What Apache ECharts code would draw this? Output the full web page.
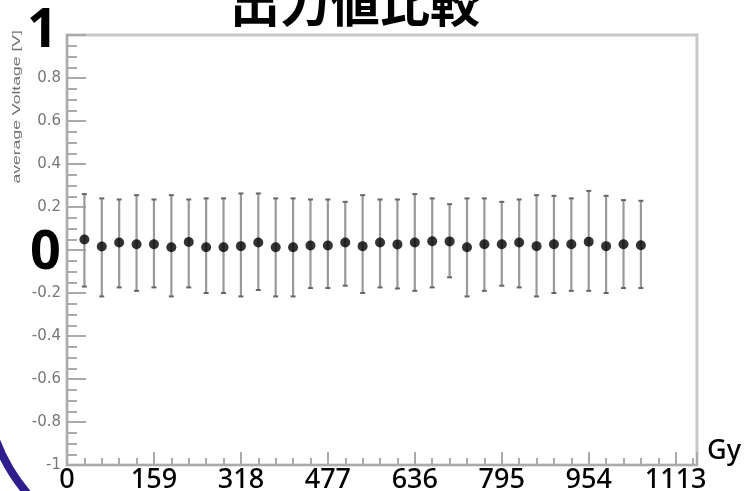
<!DOCTYPE html>
<html><head><meta charset="utf-8">
<script src="https://cdn.jsdelivr.net/npm/echarts@6/dist/echarts.min.js"></script>
<style>html,body{margin:0;padding:0;background:#fff}#c{width:748px;height:491px}</style>
</head><body><div id="c"></div>
<script>
const titleText = '出力値比較';
const yTitle = 'average Voltage [V]';
const xUnit = 'Gy';
const doses = [31.8, 63.6, 95.4, 127.2, 159, 190.8, 222.6, 254.4, 286.2, 318, 349.8, 381.6, 413.4, 445.2, 477, 508.8, 540.6, 572.4, 604.2, 636, 667.8, 699.6, 731.4, 763.2, 795, 826.8, 858.6, 890.4, 922.2, 954, 985.8, 1017.6, 1049.4];
const mean = [0.049, 0.016, 0.035, 0.027, 0.027, 0.013, 0.037, 0.013, 0.013, 0.018, 0.035, 0.013, 0.013, 0.021, 0.021, 0.035, 0.018, 0.035, 0.026, 0.035, 0.041, 0.040, 0.013, 0.027, 0.027, 0.035, 0.018, 0.027, 0.027, 0.038, 0.018, 0.027, 0.022];
const upper = [0.26, 0.24, 0.235, 0.255, 0.235, 0.255, 0.235, 0.24, 0.24, 0.263, 0.263, 0.24, 0.24, 0.235, 0.235, 0.224, 0.255, 0.235, 0.235, 0.26, 0.24, 0.213, 0.24, 0.24, 0.224, 0.235, 0.255, 0.252, 0.24, 0.275, 0.252, 0.232, 0.229];
const lower = [-0.17, -0.216, -0.174, -0.19, -0.174, -0.216, -0.174, -0.2, -0.2, -0.216, -0.186, -0.216, -0.216, -0.177, -0.177, -0.166, -0.2, -0.174, -0.179, -0.19, -0.174, -0.127, -0.216, -0.19, -0.166, -0.174, -0.216, -0.2, -0.19, -0.19, -0.2, -0.177, -0.177];
const xTickStep = 159;
const xMax = 1152;
const yMin = -1, yMax = 1, yStep = 0.2;

const chart = echarts.init(document.getElementById('c'));
const errData = doses.map((d, i) => [d, lower[i], upper[i]]);
const ptData = doses.map((d, i) => [d, mean[i]]);

const option = {
  animation: false,
  backgroundColor: '#fff',
  grid: { left: 67, right: 51, top: 35, bottom: 26, show: true, borderColor: '#c8c8c8', borderWidth: 3, backgroundColor: '#fff',
    containLabel: false, outerBoundsMode: 'none' },
  xAxis: {
    type: 'value', min: 0, max: xMax, interval: xTickStep,
    axisLine: { onZero: false, lineStyle: { color: '#aaa', width: 2 } },
    axisTick: { inside: true, length: 13, lineStyle: { color: '#aaa', width: 2 } },
    minorTick: { show: true, splitNumber: 5, length: 7, lineStyle: { color: '#aaa', width: 2 } },
    splitLine: { show: false },
    axisLabel: { margin: 2, fontSize: 27, color: '#000', fontFamily: 'Noto Sans', fontWeight: 500,
      showMaxLabel: false, showMinLabel: true,
      formatter: v => (Math.abs(v % xTickStep) < 1e-6 ? String(v) : '') },
    name: xUnit, nameLocation: 'end', nameGap: 10,
    nameTextStyle: { fontSize: 27, color: '#000', verticalAlign: 'bottom', fontFamily: 'Noto Sans', fontWeight: 500 }
  },
  yAxis: {
    type: 'value', min: yMin, max: yMax, interval: yStep,
    axisLine: { onZero: false, lineStyle: { color: '#aaa', width: 2 } },
    axisTick: { inside: true, length: 19, lineStyle: { color: '#aaa', width: 2 } },
    minorTick: { show: true, splitNumber: 4, length: 10, lineStyle: { color: '#aaa', width: 2 } },
    splitLine: { show: false },
    axisLabel: {
      margin: 6, showMaxLabel: true, showMinLabel: true,
      formatter: v => {
        const r = Math.round(v * 10) / 10;
        if (r === 1) return '{b1|1}';
        if (r === 0) return '{b0|0}';
        return '{s|' + r + '}';
      },
      rich: {
        b1: { fontSize: 54, fontWeight: 'bold', color: '#000', fontFamily: 'Noto Sans', padding: [0, 3, 6, 0] },
        b0: { fontSize: 54, fontWeight: 'bold', color: '#000', fontFamily: 'Noto Sans', padding: [8, 0, 0, 0] },
        s: { fontSize: 15, color: '#777', fontFamily: 'DejaVu Sans' }
      }
    }
  },
  graphic: [
    { type: 'text', x: 355, y: 3, z: 10,
      style: { text: titleText, fontSize: 50, fontWeight: 'bold', fontFamily: 'Noto Sans CJK JP', fill: '#000', align: 'center', verticalAlign: 'middle' } },
    { type: 'text', x: 17, y: 30, rotation: Math.PI / 2, scaleX: 1.6, z: 10,
      style: { text: yTitle, fontSize: 11, fontFamily: 'Liberation Sans', fill: '#707070', align: 'right', verticalAlign: 'middle' } },
    { type: 'arc', z: 10,
      shape: { cx: 167, cy: 375, r: 183, startAngle: 130 * Math.PI / 180, endAngle: 165 * Math.PI / 180 },
      style: { stroke: '#2e1d8c', lineWidth: 8, fill: null } }
  ],
  series: [
    {
      type: 'custom', data: errData, encode: { x: 0, y: [1, 2] }, z: 2,
      renderItem: (params, api) => {
        const x = api.value(0);
        const lo = api.coord([x, api.value(1)]);
        const hi = api.coord([x, api.value(2)]);
        const cw = 2.5;
        return { type: 'group', children: [
          { type: 'line', shape: { x1: lo[0], y1: lo[1], x2: hi[0], y2: hi[1] }, style: { stroke: '#999', lineWidth: 2.2 } },
          { type: 'line', shape: { x1: hi[0] - cw, y1: hi[1], x2: hi[0] + cw, y2: hi[1] }, style: { stroke: '#666', lineWidth: 2 } },
          { type: 'line', shape: { x1: lo[0] - cw, y1: lo[1], x2: lo[0] + cw, y2: lo[1] }, style: { stroke: '#666', lineWidth: 2 } }
        ] };
      }
    },
    { type: 'scatter', data: ptData, symbol: 'circle', symbolSize: 10, itemStyle: { color: '#000' }, z: 3 }
  ]
};
chart.setOption(option);
</script></body></html>
